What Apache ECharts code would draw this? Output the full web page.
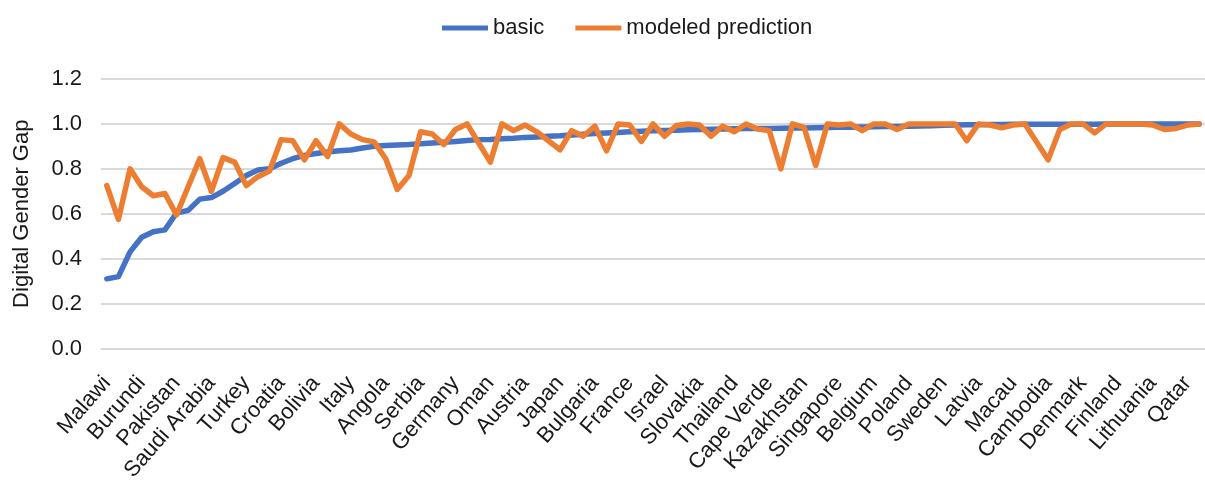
<!DOCTYPE html>
<html>
<head>
<meta charset="utf-8">
<script src="https://cdn.jsdelivr.net/npm/echarts@6/dist/echarts.min.js"></script>
<style>
html,body{margin:0;padding:0;background:#fff;}
#chart{width:1205px;height:484px;}
</style>
</head>
<body>
<div id="chart"></div>
<script>
// Labelled countries (every third category on the axis)
const labelledCountries = ["Malawi","Burundi","Pakistan","Saudi Arabia","Turkey","Croatia","Bolivia","Italy","Angola","Serbia","Germany","Oman","Austria","Japan","Bulgaria","France","Israel","Slovakia","Thailand","Cape Verde","Kazakhstan","Singapore","Belgium","Poland","Sweden","Latvia","Macau","Cambodia","Denmark","Finland","Lithuania","Qatar"];
const categoryCount = 95;
const labelStep = 3;

const basic = [0.31,0.32,0.43,0.495,0.52,0.528,0.603,0.615,0.665,0.672,0.70,0.735,0.77,0.795,0.80,0.825,0.845,0.86,0.868,0.875,0.88,0.884,0.893,0.90,0.904,0.906,0.908,0.912,0.915,0.918,0.922,0.926,0.93,0.931,0.934,0.936,0.94,0.942,0.945,0.947,0.951,0.954,0.957,0.96,0.962,0.965,0.967,0.97,0.971,0.972,0.974,0.975,0.976,0.977,0.978,0.979,0.98,0.98,0.981,0.982,0.982,0.983,0.984,0.985,0.985,0.986,0.987,0.988,0.989,0.99,0.991,0.992,0.994,0.995,0.996,0.996,0.997,0.997,0.998,0.998,0.998,0.999,0.999,0.999,0.999,0.999,1.0,1.0,1.0,1.0,1.0,1.0,1.0,1.0,1.0];
const modeled = [0.725,0.575,0.80,0.72,0.68,0.69,0.595,0.72,0.845,0.70,0.85,0.83,0.725,0.765,0.79,0.93,0.925,0.84,0.925,0.855,1.0,0.955,0.93,0.92,0.845,0.708,0.77,0.965,0.955,0.908,0.975,1.0,0.915,0.83,1.0,0.97,0.995,0.965,0.925,0.885,0.97,0.945,0.99,0.88,1.0,0.995,0.922,1.0,0.945,0.993,1.0,0.995,0.945,0.99,0.965,1.0,0.977,0.97,0.80,1.0,0.985,0.815,1.0,0.995,1.0,0.97,1.0,1.0,0.975,1.0,1.0,1.0,1.0,1.0,0.925,1.0,0.995,0.983,0.995,1.0,0.92,0.84,0.975,1.0,1.0,0.96,1.0,1.0,1.0,1.0,0.995,0.975,0.98,0.995,1.0];

const yTicks = {min: 0, max: 1.2, interval: 0.2};

const categories = [];
for (let i = 0; i < categoryCount; i++) {
  categories.push(i % labelStep === 0 ? (labelledCountries[i / labelStep] || '') : '');
}

const font = '"Liberation Sans", Arial, sans-serif';
const textColor = '#1a1a1a';
const chart = echarts.init(document.getElementById('chart'));
chart.setOption({
  animation: false,
  backgroundColor: '#ffffff',
  legend: {
    top: 12,
    left: 437,
    icon: 'rect',
    itemWidth: 46,
    itemHeight: 5,
    itemGap: 31,
    textStyle: {fontFamily: font, fontSize: 22, color: textColor},
    data: ['basic', 'modeled prediction']
  },
  grid: {left: 101, right: -1, top: 79, bottom: 135.3, containLabel: false},
  xAxis: {
    type: 'category',
    data: categories,
    boundaryGap: true,
    axisLine: {show: true, lineStyle: {color: '#d9d9d9', width: 1.5}},
    axisTick: {show: false},
    axisLabel: {
      interval: labelStep - 1,
      rotate: 49,
      margin: 31,
      fontFamily: font,
      fontSize: 22,
      color: textColor
    }
  },
  yAxis: {
    type: 'value',
    min: yTicks.min,
    max: yTicks.max,
    interval: yTicks.interval,
    name: 'Digital Gender Gap',
    nameLocation: 'middle',
    nameGap: 68,
    nameTextStyle: {fontFamily: font, fontSize: 22, color: textColor},
    axisLine: {show: false},
    axisTick: {show: false},
    axisLabel: {
      formatter: v => v.toFixed(1),
      fontFamily: font,
      fontSize: 22,
      color: textColor,
      margin: 19
    },
    splitLine: {lineStyle: {color: '#d9d9d9', width: 1.8}}
  },
  series: [
    {
      name: 'basic',
      type: 'line',
      data: basic,
      showSymbol: false,
      symbol: 'none',
      lineStyle: {color: '#4472C4', width: 5.5, join: 'round', cap: 'round'},
      itemStyle: {color: '#4472C4'},
      z: 2
    },
    {
      name: 'modeled prediction',
      type: 'line',
      data: modeled,
      showSymbol: false,
      symbol: 'none',
      lineStyle: {color: '#ED7D31', width: 5.5, join: 'round', cap: 'round'},
      itemStyle: {color: '#ED7D31'},
      z: 3
    }
  ]
});
</script>
</body>
</html>
